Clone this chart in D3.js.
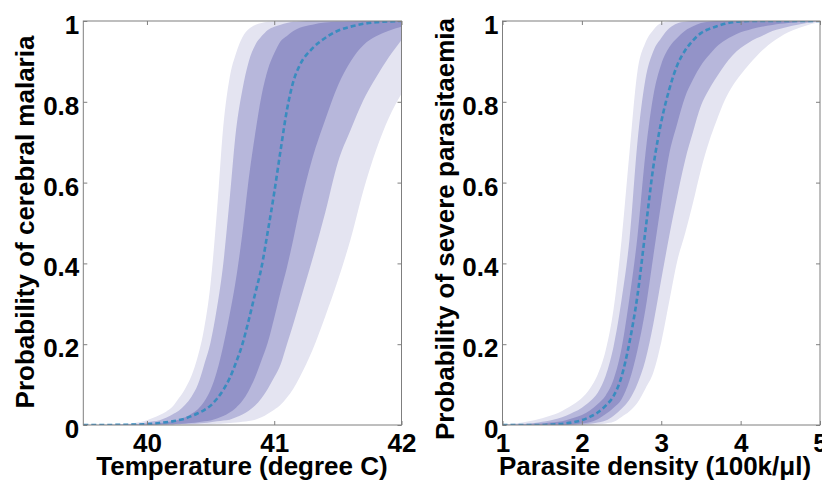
<!DOCTYPE html>
<html>
<head>
<meta charset="utf-8">
<script src="https://cdn.jsdelivr.net/npm/d3@7"></script>
<style>
  body { margin: 0; background: #fff; }
  svg { display: block; }
  text { font-family: "Liberation Sans", Arial, Helvetica, sans-serif; font-weight: bold; fill: #000; }
</style>
</head>
<body>
<svg id="chart" width="822" height="484"></svg>
<script>
// ---- Cerebral malaria vs temperature ----
const tempX = [39.5, 39.6, 39.7, 39.8, 39.9, 40.0, 40.05, 40.1, 40.15, 40.2, 40.25, 40.3, 40.35, 40.4, 40.45,
  40.5, 40.55, 40.6, 40.65, 40.7, 40.75, 40.8, 40.85, 40.9, 40.95, 41.0, 41.05, 41.1, 41.15, 41.2,
  41.3, 41.4, 41.5, 41.6, 41.7, 41.8, 41.9, 42.0];
// outer band (widest interval), left / right edges
const cmOuterHi = [0, 0.0005, 0.001, 0.002, 0.005, 0.012, 0.018, 0.025, 0.033, 0.045, 0.066, 0.09, 0.122, 0.17, 0.24,
  0.35, 0.53, 0.74, 0.86, 0.92, 0.96, 0.98, 0.99, 0.995, 0.998, 0.999, 1, 1, 1, 1,
  1, 1, 1, 1, 1, 1, 1, 1];
const cmOuterLo = [0, 0, 0, 0, 0, 0, 0, 0, 0, 0.0005, 0.0008, 0.001, 0.0013, 0.0016, 0.0018,
  0.002, 0.003, 0.004, 0.005, 0.006, 0.008, 0.01, 0.013, 0.019, 0.028, 0.038, 0.05, 0.068, 0.09, 0.118,
  0.185, 0.268, 0.358, 0.46, 0.58, 0.68, 0.76, 0.82];
// middle band
const cmMidHi = [0, 0, 0.0005, 0.001, 0.002, 0.006, 0.009, 0.012, 0.018, 0.026, 0.035, 0.05, 0.07, 0.1, 0.15,
  0.205, 0.29, 0.40, 0.56, 0.73, 0.83, 0.90, 0.94, 0.962, 0.978, 0.986, 0.991, 0.995, 0.998, 0.999,
  1, 1, 1, 1, 1, 1, 1, 1];
const cmMidLo = [0, 0, 0, 0, 0, 0.0003, 0.0005, 0.0007, 0.001, 0.0015, 0.002, 0.0025, 0.003, 0.004, 0.005,
  0.007, 0.009, 0.011, 0.013, 0.019, 0.026, 0.035, 0.048, 0.066, 0.09, 0.118, 0.15, 0.2, 0.25, 0.303,
  0.41, 0.525, 0.65, 0.73, 0.804, 0.86, 0.91, 0.953];
// inner band
const cmInnerHi = [0, 0, 0, 0.0005, 0.001, 0.002, 0.003, 0.005, 0.007, 0.01, 0.013, 0.019, 0.028, 0.039, 0.058,
  0.087, 0.133, 0.197, 0.274, 0.362, 0.475, 0.61, 0.72, 0.815, 0.88, 0.92, 0.95, 0.963, 0.975, 0.983,
  0.991, 0.996, 0.998, 0.999, 1, 1, 1, 1];
const cmInnerLo = [0, 0, 0, 0, 0, 0.0005, 0.0007, 0.001, 0.0015, 0.002, 0.003, 0.004, 0.005, 0.007, 0.009,
  0.011, 0.016, 0.022, 0.031, 0.043, 0.06, 0.085, 0.118, 0.16, 0.205, 0.265, 0.33, 0.39, 0.46, 0.535,
  0.66, 0.755, 0.84, 0.9, 0.94, 0.962, 0.976, 0.986];
// median curve
const cmMedian = [0, 0, 0, 0.0005, 0.001, 0.002, 0.003, 0.005, 0.007, 0.009, 0.012, 0.016, 0.022, 0.029, 0.037,
  0.048, 0.065, 0.087, 0.116, 0.155, 0.2, 0.26, 0.325, 0.39, 0.48, 0.575, 0.68, 0.78, 0.85, 0.89,
  0.932, 0.958, 0.976, 0.986, 0.993, 0.997, 0.999, 1];
const tempTicks = [40, 41, 42];

// ---- Severe parasitaemia vs parasite density ----
const densX = [1.0, 1.1, 1.2, 1.3, 1.4, 1.5, 1.6, 1.7, 1.8, 1.9, 2.0, 2.1, 2.2, 2.3, 2.4, 2.5, 2.6, 2.7, 2.8, 2.9,
  3.0, 3.1, 3.2, 3.3, 3.4, 3.5, 3.6, 3.7, 3.8, 3.9, 4.0, 4.1, 4.2, 4.3, 4.4, 4.5, 4.6, 4.7, 4.8, 4.9, 5.0];
const spOuterHi = [0.001, 0.003, 0.005, 0.008, 0.012, 0.017, 0.023, 0.03, 0.04, 0.052, 0.067, 0.09, 0.125, 0.185, 0.288,
  0.458, 0.675, 0.875, 0.946, 0.978, 0.995, 0.999, 1, 1, 1, 1, 1, 1, 1, 1, 1, 1, 1, 1, 1, 1, 1, 1, 1, 1, 1];
const spOuterLo = [0, 0, 0, 0, 0, 0, 0, 0, 0, 0, 0, 0, 0.002, 0.004, 0.008, 0.02, 0.034, 0.055, 0.09, 0.13,
  0.205, 0.305, 0.405, 0.474, 0.55, 0.632, 0.7, 0.755, 0.804, 0.84, 0.867, 0.891, 0.913, 0.932, 0.948, 0.961,
  0.972, 0.98, 0.987, 0.993, 0.997];
const spMidHi = [0, 0.001, 0.002, 0.003, 0.005, 0.008, 0.011, 0.016, 0.023, 0.032, 0.043, 0.058, 0.08, 0.122, 0.195,
  0.31, 0.46, 0.70, 0.855, 0.925, 0.958, 0.982, 0.994, 0.998, 1, 1, 1, 1, 1, 1, 1, 1, 1, 1, 1, 1, 1, 1, 1, 1, 1];
const spMidLo = [0, 0, 0, 0, 0, 0, 0, 0, 0, 0, 0.001, 0.003, 0.006, 0.011, 0.023, 0.04, 0.063, 0.102, 0.16, 0.25,
  0.36, 0.467, 0.565, 0.655, 0.725, 0.79, 0.83, 0.862, 0.891, 0.915, 0.933, 0.946, 0.957, 0.966, 0.975, 0.981,
  0.986, 0.99, 0.994, 0.997, 0.999];
const spInnerHi = [0, 0, 0.001, 0.002, 0.003, 0.004, 0.006, 0.008, 0.012, 0.018, 0.025, 0.036, 0.052, 0.073, 0.113,
  0.19, 0.315, 0.466, 0.67, 0.815, 0.893, 0.935, 0.958, 0.976, 0.987, 0.995, 0.998, 1, 1, 1, 1, 1, 1, 1, 1, 1,
  1, 1, 1, 1, 1];
const spInnerLo = [0, 0, 0, 0, 0, 0, 0, 0, 0, 0.002, 0.004, 0.007, 0.014, 0.027, 0.043, 0.064, 0.11, 0.185, 0.285, 0.418,
  0.55, 0.67, 0.745, 0.812, 0.855, 0.89, 0.915, 0.937, 0.952, 0.963, 0.972, 0.978, 0.983, 0.987, 0.99, 0.993,
  0.995, 0.997, 0.998, 0.999, 1];
const spMedian = [0, 0, 0, 0, 0, 0, 0.001, 0.002, 0.004, 0.007, 0.012, 0.02, 0.031, 0.048, 0.072, 0.12, 0.205, 0.32, 0.48, 0.639,
  0.75, 0.83, 0.89, 0.927, 0.952, 0.97, 0.98, 0.987, 0.993, 0.997, 0.999, 1, 1, 1, 1, 1, 1, 1, 1, 1, 1];
const densTicks = [1, 2, 3, 4, 5];

const probTicks = [0, 0.2, 0.4, 0.6, 0.8, 1];

const bandColors = ["#e4e4f1", "#b7b7db", "#9393c8"];
const medianColor = "#3a8cbf";
const frameColor = "#7f7f7f";

const panels = [
  {
    id: "cm", x: tempX, median: cmMedian, ticks: tempTicks,
    bands: [[cmOuterHi, cmOuterLo], [cmMidHi, cmMidLo], [cmInnerHi, cmInnerLo]],
    domain: [39.5, 42], left: 83.3, right: 401.5,
    xlabel: "Temperature (degree C)", xlabelX: 242,
    ylabel: "Probability of cerebral malaria", ylabelX: 34, ylabelY: 222
  },
  {
    id: "sp", x: densX, median: spMedian, ticks: densTicks,
    bands: [[spOuterHi, spOuterLo], [spMidHi, spMidLo], [spInnerHi, spInnerLo]],
    domain: [1, 5], left: 502.5, right: 820,
    xlabel: "Parasite density (100k/\u03bcl)", xlabelX: 655,
    ylabel: "Probability of severe parasitaemia", ylabelX: 454, ylabelY: 229
  }
];

const plotTop = 21, plotBottom = 425;
const svg = d3.select("#chart");
const y = d3.scaleLinear().domain([0, 1]).range([plotBottom, plotTop]);

panels.forEach(p => {
  const x = d3.scaleLinear().domain(p.domain).range([p.left, p.right]);
  const g = svg.append("g");

  g.append("clipPath").attr("id", "clip-" + p.id)
    .append("rect").attr("x", p.left).attr("y", plotTop)
    .attr("width", p.right - p.left).attr("height", plotBottom - plotTop);

  const plot = g.append("g").attr("clip-path", `url(#clip-${p.id})`);

  // nested credible bands, widest first
  p.bands.forEach(([hi, lo], i) => {
    const area = d3.area()
      .x((d, j) => x(p.x[j]))
      .y0((d, j) => y(lo[j]))
      .y1((d, j) => y(hi[j]))
      .curve(d3.curveMonotoneX);
    plot.append("path").datum(p.x).attr("d", area).attr("fill", bandColors[i]);
  });

  // median curve
  const line = d3.line()
    .x((d, j) => x(p.x[j]))
    .y(d => y(d))
    .curve(d3.curveMonotoneX);
  plot.append("path").datum(p.median).attr("d", line)
    .attr("fill", "none").attr("stroke", medianColor)
    .attr("stroke-width", 2.6).attr("stroke-dasharray", "5,3");

  // frame
  g.append("rect").attr("x", p.left).attr("y", plotTop)
    .attr("width", p.right - p.left).attr("height", plotBottom - plotTop)
    .attr("fill", "none").attr("stroke", frameColor).attr("stroke-width", 1);

  const fmt = d3.format("~g");

  const yl = g.append("g").attr("transform", `translate(${p.left},0)`)
    .call(d3.axisLeft(y).tickValues(probTicks).tickSize(-4).tickPadding(4).tickFormat(fmt));
  const yr = g.append("g").attr("transform", `translate(${p.right},0)`)
    .call(d3.axisRight(y).tickValues(probTicks).tickSize(-4).tickFormat(""));
  const xb = g.append("g").attr("transform", `translate(0,${plotBottom})`)
    .call(d3.axisBottom(x).tickValues(p.ticks).tickSize(-4).tickPadding(9).tickFormat(fmt));
  const xt = g.append("g").attr("transform", `translate(0,${plotTop})`)
    .call(d3.axisTop(x).tickValues(p.ticks).tickSize(-4).tickFormat(""));

  [yl, yr, xb, xt].forEach(a => {
    a.select(".domain").remove();
    a.selectAll(".tick line").attr("stroke", frameColor);
    a.selectAll(".tick text").attr("font-size", 26).attr("fill", "#000")
      .attr("font-family", null);
  });
  yl.selectAll(".tick text").attr("dy", "0.48em");

  g.append("text").attr("x", p.xlabelX).attr("y", 475)
    .attr("text-anchor", "middle").attr("font-size", 26).text(p.xlabel);

  g.append("text")
    .attr("transform", `translate(${p.ylabelX},${p.ylabelY}) rotate(-90)`)
    .attr("text-anchor", "middle").attr("font-size", 26).text(p.ylabel);
});
</script>
</body>
</html>
